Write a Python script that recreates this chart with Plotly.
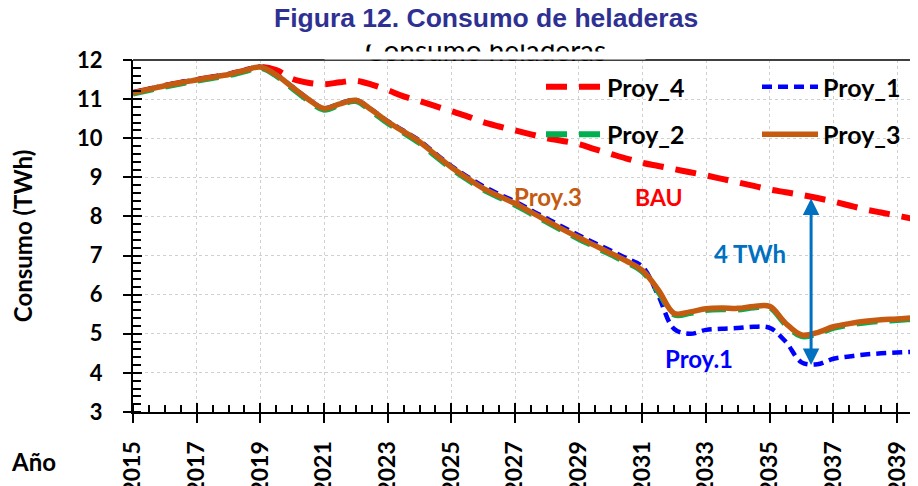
import plotly.graph_objects as go

# ---------------- data ----------------
years = [2015 + 0.5 * i for i in range(51)]  # 2015.0 ... 2040.0 (half-year points)

proy_3 = [11.16, 11.25, 11.34, 11.42, 11.49, 11.56, 11.63, 11.73, 11.82, 11.62,
          11.31, 11.00, 10.76, 10.88, 10.97, 10.72, 10.42, 10.17, 9.91, 9.58,
          9.26, 8.98, 8.72, 8.52, 8.33, 8.11, 7.89, 7.67, 7.46, 7.26,
          7.06, 6.86, 6.62, 6.12, 5.52, 5.56, 5.64, 5.66, 5.65, 5.70,
          5.70, 5.27, 4.97, 5.03, 5.18, 5.26, 5.32, 5.36, 5.38, 5.41, 5.44]

proy_2 = [11.14, 11.23, 11.32, 11.40, 11.47, 11.54, 11.61, 11.71, 11.80, 11.60,
          11.28, 10.97, 10.73, 10.86, 10.95, 10.69, 10.39, 10.14, 9.88, 9.55,
          9.23, 8.95, 8.69, 8.49, 8.30, 8.08, 7.86, 7.64, 7.43, 7.23,
          7.03, 6.83, 6.59, 6.08, 5.49, 5.53, 5.61, 5.63, 5.62, 5.67,
          5.67, 5.24, 4.94, 5.00, 5.15, 5.23, 5.29, 5.33, 5.35, 5.38, 5.41]

proy_1 = [11.17, 11.26, 11.35, 11.43, 11.50, 11.57, 11.64, 11.74, 11.83, 11.63,
          11.32, 11.01, 10.77, 10.89, 10.98, 10.73, 10.44, 10.19, 9.94, 9.61,
          9.29, 9.02, 8.77, 8.57, 8.38, 8.16, 7.95, 7.73, 7.52, 7.32,
          7.13, 6.93, 6.72, 5.98, 5.12, 5.00, 5.10, 5.13, 5.15, 5.18,
          5.15, 4.80, 4.27, 4.22, 4.36, 4.42, 4.47, 4.50, 4.52, 4.54, 4.55]

proy_4 = [11.16, 11.25, 11.34, 11.42, 11.49, 11.56, 11.63, 11.73, 11.82, 11.74,
          11.52, 11.42, 11.38, 11.43, 11.47, 11.37, 11.23, 11.07, 10.95, 10.82,
          10.69, 10.56, 10.41, 10.30, 10.20, 10.10, 10.00, 9.93, 9.85, 9.72,
          9.60, 9.48, 9.37, 9.29, 9.21, 9.13, 9.05, 8.96, 8.87, 8.78,
          8.69, 8.62, 8.55, 8.47, 8.38, 8.28, 8.18, 8.10, 8.02, 7.94, 7.85]

x_ticks = list(range(2015, 2040, 2))
y_ticks = list(range(3, 13))

gap_year = 2036.3
gap_top = 8.5
gap_bottom = 4.2

# ---------------- figure ----------------
FONT = "Lato"
RED, BLUE, GREEN, ORANGE = "#FF0000", "#0000FF", "#00B050", "#C55A11"
ABLUE = "#0070C0"

# page body has an 8px margin -> figure is drawn 8px right/down
OFF = 8
PL, PT, PB = 133, 60, 412          # plot-area edges in page pixels
PW, PH = 918 - PL, PB - PT
X_MAX = 2015 + 2 * PW / 63.67


def px(xp):   # page x pixel -> paper x
    return (xp - PL) / PW


def py(yp):   # page y pixel -> paper y
    return 1 - (yp - PT) / PH


fig = go.Figure()
fig.add_trace(go.Scatter(x=years, y=proy_4, name="Proy_4", mode="lines",
                         line=dict(color=RED, width=6, dash="21px,12px", shape="spline"),
                         legend="legend", legendgroup="g4"))
fig.add_trace(go.Scatter(x=years, y=proy_1, name="Proy_1", mode="lines",
                         line=dict(color=BLUE, width=4.5, dash="10px,6px", shape="spline"),
                         legend="legend2", legendgroup="g1"))
fig.add_trace(go.Scatter(x=years, y=proy_2, name="Proy_2", mode="lines",
                         line=dict(color=GREEN, width=6, dash="21px,12px", shape="spline"),
                         legend="legend", legendgroup="g2"))
fig.add_trace(go.Scatter(x=years, y=proy_3, name="Proy_3", mode="lines",
                         line=dict(color=ORANGE, width=5.5, shape="spline"),
                         legend="legend2", legendgroup="g3"))

# invisible traces binding the overlay tick axes
fig.add_trace(go.Scatter(x=[years[0]], y=[proy_3[0]], xaxis="x2", yaxis="y2",
                         mode="markers", marker=dict(opacity=0), showlegend=False,
                         hoverinfo="skip"))
fig.add_trace(go.Scatter(x=[years[0]], y=[proy_3[0]], xaxis="x", yaxis="y3",
                         mode="markers", marker=dict(opacity=0), showlegend=False,
                         hoverinfo="skip"))

axis_font = dict(family=FONT, size=22, color="black", weight="bold")
leg_font = dict(family=FONT, size=25, color="black", weight="bold")
hidden_axis = dict(showticklabels=False, showgrid=False, showline=False, zeroline=False)

fig.update_layout(
    width=918 - OFF, height=486 - OFF,
    margin=dict(l=PL - OFF, r=0, t=PT - OFF, b=486 - PB, autoexpand=False),
    paper_bgcolor="white", plot_bgcolor="white",
    showlegend=True,
    xaxis=dict(range=[2015, X_MAX], tickmode="array", tickvals=x_ticks,
               ticktext=[str(v) for v in x_ticks], tickangle=-90,
               tickfont=dict(family=FONT, size=23, color="black", weight="bold"),
               ticks="outside", ticklen=9, tickwidth=2, tickcolor="black",
               showline=True, linecolor="black", linewidth=2,
               showgrid=True, gridcolor="#D0D0D0", griddash="dot", gridwidth=1,
               zeroline=False, ticklabelstandoff=9,
               minor=dict(ticks="inside", dtick=0.5, tick0=2015, ticklen=7,
                          tickwidth=1.5, tickcolor="black", showgrid=False)),
    # main y axis: transparent long ticks push the labels away from the axis
    yaxis=dict(range=[3, 12], tickmode="array", tickvals=y_ticks,
               tickfont=axis_font,
               ticks="outside", ticklen=24, tickwidth=2, tickcolor="rgba(0,0,0,0)",
               showline=True, linecolor="black", linewidth=2,
               showgrid=True, gridcolor="#D0D0D0", griddash="dot", gridwidth=1,
               zeroline=False,
               title=dict(text="Consumo (TWh)", standoff=44,
                          font=dict(family=FONT, size=24, color="black", weight="bold")),
               minor=dict(ticks="inside", dtick=0.2, tick0=3, ticklen=8,
                          tickwidth=1.5, tickcolor="black", showgrid=False)),
    xaxis2=dict(overlaying="x", matches="x", ticks="inside", ticklen=9, tickwidth=2,
                tickcolor="black", tickmode="array", tickvals=x_ticks, **hidden_axis),
    yaxis2=dict(overlaying="y", matches="y", ticks="inside", ticklen=9, tickwidth=2,
                tickcolor="black", tickmode="array", tickvals=y_ticks, **hidden_axis),
    yaxis3=dict(overlaying="y", matches="y", ticks="outside", ticklen=9, tickwidth=2,
                tickcolor="black", tickmode="array", tickvals=y_ticks, **hidden_axis),
    legend=dict(x=px(541), y=py(64), xanchor="left", yanchor="top", bgcolor="rgba(0,0,0,0)",
                font=leg_font, tracegroupgap=12, itemwidth=56, traceorder="grouped"),
    legend2=dict(x=px(757), y=py(64), xanchor="left", yanchor="top", bgcolor="rgba(0,0,0,0)",
                 font=leg_font, tracegroupgap=12, itemwidth=56, traceorder="grouped"),
)

# top border
fig.add_shape(type="line", xref="paper", yref="paper", x0=0, x1=1, y0=1, y1=1,
              line=dict(color="#404040", width=2))

# ghost chart title (mostly hidden, only a thin strip shows)
fig.add_annotation(text="Consumo heladeras", xref="paper", yref="paper",
                   x=px(485), y=py(50), xanchor="center", yanchor="middle",
                   showarrow=False, font=dict(family=FONT, size=28, color="black"))
fig.add_annotation(text=" ", xref="paper", yref="paper",
                   x=px(485), y=py(55.5), xanchor="center", yanchor="middle",
                   showarrow=False, width=320, height=7,
                   bgcolor="white", borderpad=0, font=dict(size=2))
fig.add_annotation(text=" ", xref="paper", yref="paper",
                   x=px(485), y=py(38.5), xanchor="center", yanchor="middle",
                   showarrow=False, width=320, height=11,
                   bgcolor="white", borderpad=0, font=dict(size=2))

# main title
fig.add_annotation(text="<b>Figura 12. Consumo de heladeras</b>", xref="paper", yref="paper",
                   x=px(486), y=py(18), xanchor="center", yanchor="middle",
                   showarrow=False,
                   font=dict(family="Liberation Sans", size=26.5, color="#2E3192"))

# "Año"
fig.add_annotation(text="<b>Año</b>", xref="paper", yref="paper",
                   x=px(33), y=py(461), xanchor="center", yanchor="middle",
                   showarrow=False, font=dict(family=FONT, size=24, color="black"))


def label(txt, x, y, color, size=24):
    fig.add_annotation(text=f"<b>{txt}</b>", x=x, y=y, xref="x", yref="y",
                       showarrow=False, font=dict(family=FONT, size=size, color=color))


label("Proy.3", 2028.04, 8.52, ORANGE)
label("BAU", 2031.53, 8.50, RED, 23)
label("4 TWh", 2034.38, 7.04, ABLUE)
label("Proy.1", 2032.78, 4.38, BLUE)

# double arrow for the 4 TWh gap
fig.add_annotation(x=gap_year, y=gap_bottom, ax=gap_year, ay=gap_top,
                   xref="x", yref="y", axref="x", ayref="y", text="",
                   showarrow=True, arrowhead=2, startarrowhead=2, arrowside="end+start",
                   arrowwidth=3, arrowsize=1.1, startarrowsize=1.1, arrowcolor=ABLUE,
                   standoff=0, startstandoff=0)

fig.write_html("out.html")
